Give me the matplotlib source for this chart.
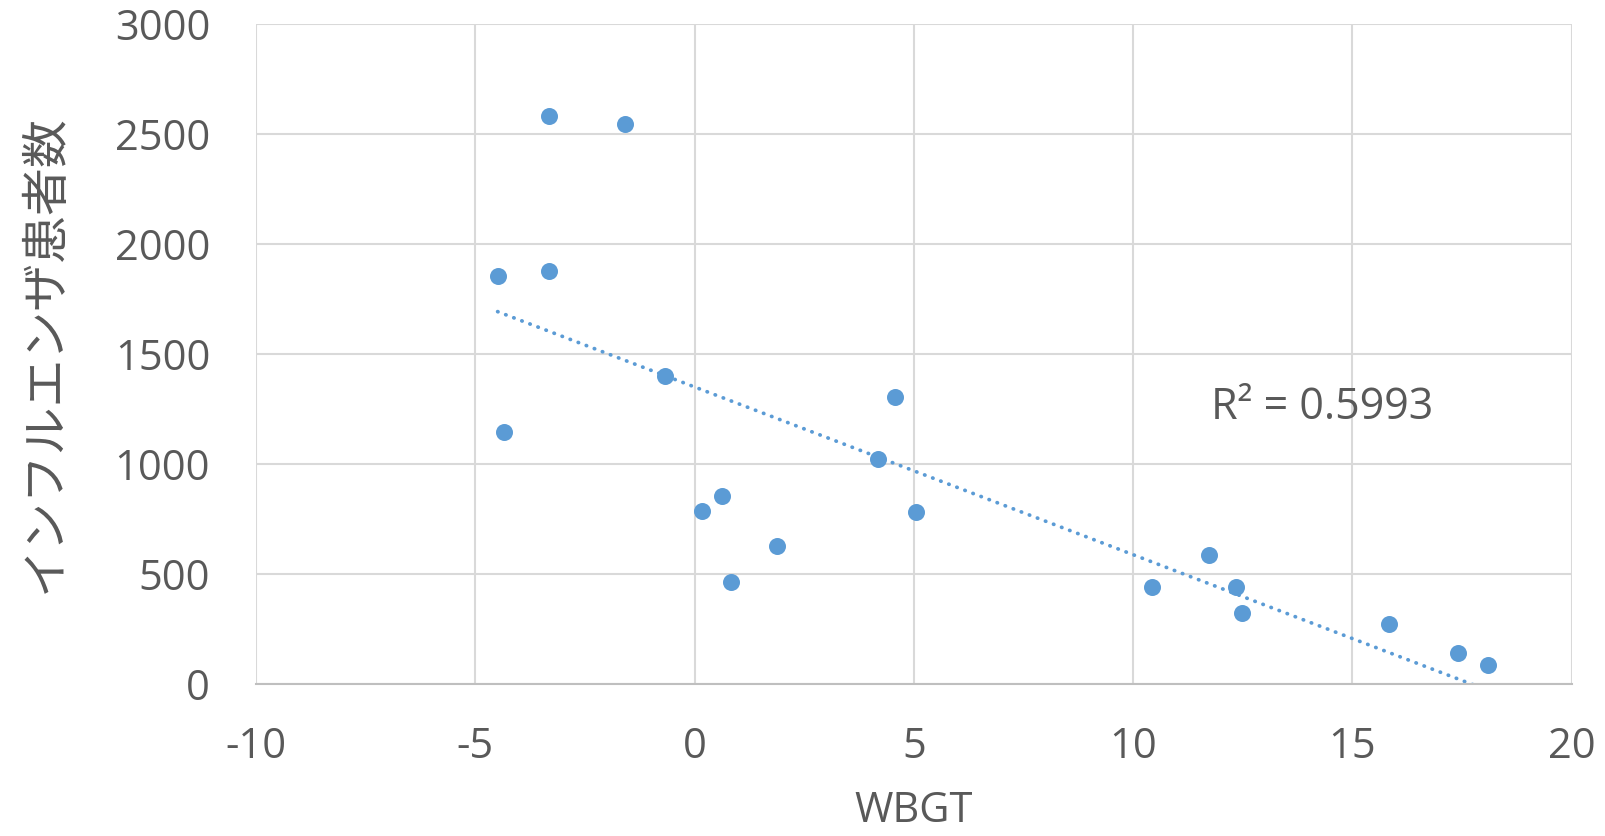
import numpy as np
import matplotlib
matplotlib.use("Agg")
import matplotlib.pyplot as plt

# Data
wbgt = [-3.31, -1.58, -4.49, -3.31, -0.67, 4.57, -4.34, 4.18,
        0.18, 0.62, 1.89, 0.82, 5.05,
        11.73, 10.43, 12.35, 12.48, 15.83, 17.40, 18.09]
patients = [2582, 2547, 1856, 1879, 1400, 1305, 1144, 1023,
            785, 855, 627, 464, 782,
            586, 442, 439, 321, 274, 142, 88]
x_ticks = [-10, -5, 0, 5, 10, 15, 20]
y_ticks = [0, 500, 1000, 1500, 2000, 2500, 3000]
r2_label = "R² = 0.5993"
x_label = "WBGT"
y_label = "インフルエンザ患者数"

TEXT = "#595959"
BLUE = "#5B9BD5"
GRID = "#D9D9D9"

plt.rcParams['font.family'] = ['Open Sans', 'DejaVu Sans']
plt.rcParams['axes.unicode_minus'] = False

fig = plt.figure(figsize=(16.06, 8.36), dpi=100)
ax = fig.add_axes([0.1594, 0.1818, 0.8192, 0.7895])

ax.scatter(wbgt, patients, s=150, color=BLUE, zorder=3, linewidths=0)

# linear trendline
coef = np.polyfit(wbgt, patients, 1)
xs = np.array([min(wbgt), max(wbgt)])
ax.plot(xs, np.polyval(coef, xs), color=BLUE, linewidth=2.7,
        linestyle=(0, (0.1, 2.2)), dash_capstyle='round', zorder=2)

ax.set_xlim(-10, 20)
ax.set_ylim(0, 3000)
ax.set_xticks(x_ticks)
ax.set_yticks(y_ticks)
ax.grid(True, color=GRID, linewidth=1.5, zorder=0)
ax.set_axisbelow(True)
for side in ['left', 'top', 'right']:
    ax.spines[side].set_visible(False)
ax.spines['bottom'].set_color('#BFBFBF')
ax.spines['bottom'].set_linewidth(1.5)
ax.tick_params(axis='both', length=0, labelsize=30, colors=TEXT)
ax.tick_params(axis='x', pad=30)
ax.tick_params(axis='y', pad=33)

ax.set_xlabel(x_label, fontsize=30, color=TEXT, labelpad=16)
ax.set_ylabel(y_label, fontsize=34.5, color=TEXT, labelpad=32,
              family=['Noto Sans CJK JP', 'DejaVu Sans'])

ax.text(11.78, 1255, r2_label, fontsize=31, color=TEXT, ha='left', va='center')

fig.savefig("out.png", dpi=100, facecolor='white')
